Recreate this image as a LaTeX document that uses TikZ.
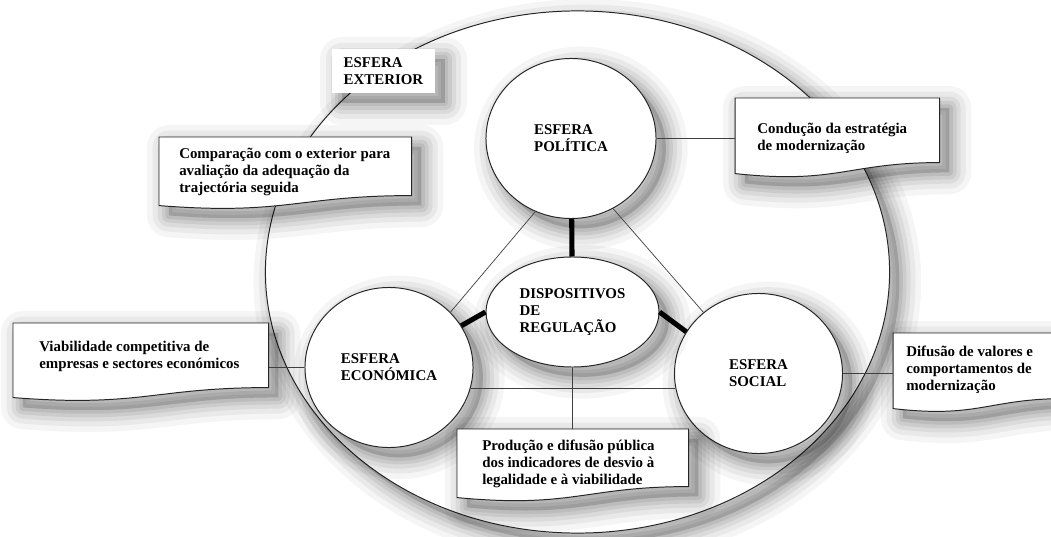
\documentclass[tikz,border=0pt]{standalone}
\usepackage{fontspec}
\setmainfont{Liberation Serif}
\usetikzlibrary{shapes.geometric,calc}

\newcommand{\boxfont}{\bfseries\fontsize{10.6pt}{12.2pt}\selectfont}

% caixa com base ondulada (a caixa vazia ja existe, o texto vem depois)
\newcommand{\docshape}[2]{%
  \draw[outline, fill=white, soft] (#1.north west) -- (#1.north east) -- (#1.south east)
    .. controls ($(#1.south east)!0.45!(#1.south west)$)
    and ($(#1.south west)!0.5!(#1.south east)+(0,2*#2)$) .. ($(#1.south west)+(0,#2)$)
    -- cycle;}

\tikzset{
  shade/.style={transform canvas={xshift=7pt, yshift=-7pt}, line join=round},
  soft/.style={
    preaction={fill=black, opacity=0.16, shade},
    preaction={draw=black, opacity=0.07, line width=5pt, shade},
    preaction={draw=black, opacity=0.07, line width=10pt, shade},
    preaction={draw=black, opacity=0.06, line width=16pt, shade},
    preaction={draw=black, opacity=0.05, line width=23pt, shade},
    preaction={draw=black, opacity=0.04, line width=31pt, shade}},
  outline/.style={draw=black!85, line width=0.7pt},
  esfera/.style={ellipse, outline, fill=white, soft, minimum width=4.2cm,
      minimum height=4cm, inner sep=0pt, align=left, font=\boxfont},
  nucleo/.style={ellipse, outline, fill=white, soft, minimum width=4.325cm,
      minimum height=2.75cm, inner sep=0pt, align=left, font=\boxfont},
  outer/.style={fill=white, soft, minimum width=2.575cm, minimum height=1.1cm,
      align=left, font=\boxfont},
  docbox/.style={anchor=north west, inner sep=0pt, draw=none},
  boxtxt/.style={anchor=west, align=left, inner sep=0pt, font=\boxfont},
  link/.style={draw=black!75, line width=0.5pt},
  bond/.style={draw=black, line width=3.6pt}
}

\begin{document}
\begin{tikzpicture}[x=0.025cm, y=-0.025cm]
\useasboundingbox (0,0) rectangle (1051,537);

% esfera exterior
\node[ellipse, outline, fill=white, soft, minimum width=15.6cm,
  minimum height=13.05cm] (sph) at (577.5,272) {};
\node[outer] (ext) at (383.5,71) {ESFERA\\EXTERIOR};

% esferas e dispositivos
\node[esfera, minimum width=4.25cm] (pol) at (571,138.5) {ESFERA\\POLÍTICA};
\node[esfera] (eco) at (389,367.5) {ESFERA\\ECONÓMICA};
\node[esfera] (soc) at (758.5,373.5) {ESFERA\\SOCIAL};
\node[nucleo] (disp) at (572.5,312) {DISPOSITIVOS\\DE\\REGULAÇÃO};

% caixas
\node[docbox, minimum width=6.3cm, minimum height=1.45cm] (cmp) at (159,137) {};
\docshape{cmp}{10}
\node[boxtxt] (cmp-txt) at (179,172) {Comparação com o exterior para\\avaliação da adequação da\\trajectória seguida};

\node[docbox, minimum width=5.1cm, minimum height=1.6cm] (cond) at (735,98) {};
\docshape{cond}{11}
\node[boxtxt] (cond-txt) at (757,138) {Condução da estratégia\\de modernização};

\node[docbox, minimum width=6.375cm, minimum height=1.6cm] (viab) at (13,323) {};
\docshape{viab}{10}
\node[boxtxt] (viab-txt) at (39,356) {Viabilidade competitiva de\\empresas e sectores económicos};

\node[docbox, minimum width=5.775cm, minimum height=1.425cm] (prod) at (457,429) {};
\docshape{prod}{11}
\node[boxtxt] (prod-txt) at (482,464) {Produção e difusão pública\\dos indicadores de desvio à\\legalidade e à viabilidade};

\node[docbox, minimum width=4.3cm, minimum height=1.625cm] (dif) at (893,333) {};
\docshape{dif}{10}
\node[boxtxt] (dif-txt) at (906,370) {Difusão de valores e\\comportamentos de\\modernização};

% ligações
\draw[link] (pol.244) -- (eco.42);
\draw[link] (pol.301) -- (soc.132);
\draw[link] (eco.346) -- (soc.190 |- eco.346);
\draw[link] (pol.east) -- (pol.east -| cond.west);
\draw[link] (eco.west) -- (eco.west -| viab.east);
\draw[link] (soc.east) -- (soc.east -| dif.west);
\draw[link] (disp.south) -- (disp.south |- prod.north);

\draw[bond] (pol) -- (disp);
\draw[bond] (eco.30) -- (disp.west);
\draw[bond] (disp.east) -- (soc.150);
\end{tikzpicture}
\end{document}
